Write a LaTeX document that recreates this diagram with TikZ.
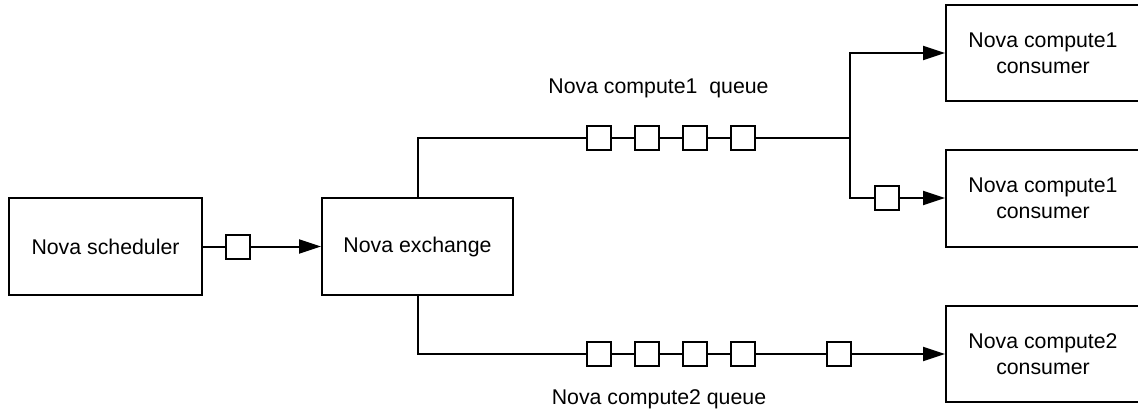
\documentclass[tikz,border=0pt]{standalone}
\usepackage{fontspec}
\setmainfont{Liberation Sans}
\usetikzlibrary{arrows.meta}
\begin{document}
\begin{tikzpicture}[x=1pt,y=-1pt,
  line width=2pt,
  box/.style={draw,line width=2pt,inner sep=0pt,align=center,
    font=\fontsize{21.3}{26}\selectfont},
  qbox/.style={draw,fill=white,line width=2pt,inner sep=0pt,minimum width=24pt,minimum height=24pt},
  lbl/.style={inner sep=0pt,font=\fontsize{21.3}{26}\selectfont},
  arr/.style={-{Triangle[length=22pt,width=14pt]}}]
\fill[white] (0,0) rectangle (1138,412);
\useasboundingbox (0,0) rectangle (1138,412);
\clip (0,0) rectangle (1138,412);
% main boxes
\node[box,minimum width=193pt,minimum height=97pt] (sched) at (105.5,246.5) {Nova scheduler};
\node[box,minimum width=191pt,minimum height=97pt] (exch) at (417.5,246.5) {Nova exchange};
\node[box,minimum width=194pt,minimum height=96pt] (c1) at (1043,53) {Nova compute1\\consumer};
\node[box,minimum width=194pt,minimum height=97pt] (c2) at (1043,198) {Nova compute1\\consumer};
\node[box,minimum width=194pt,minimum height=96pt] (c3) at (1043,354) {Nova compute2\\consumer};
% queue squares
\node[qbox] (s1) at (238,246.5) {};
\node[qbox] (t1) at (598.5,137.5) {};
\node[qbox] (t2) at (646.5,137.5) {};
\node[qbox] (t3) at (694.5,137.5) {};
\node[qbox] (t4) at (742.5,137.5) {};
\node[qbox] (s2) at (887,198) {};
\node[qbox] (b1) at (598.5,354) {};
\node[qbox] (b2) at (646.5,354) {};
\node[qbox] (b3) at (694.5,354) {};
\node[qbox] (b4) at (742.5,354) {};
\node[qbox] (b5) at (838.5,354) {};
\coordinate (j1) at (850,137.5);
% labels
\node[lbl] (l1) at (658.5,88) {Nova compute1\ \ queue};
\node[lbl] (l2) at (659,399) {Nova compute2 queue};
% connectors
\draw (sched.east) -- (s1.west);
\draw[arr] (s1.east) -- (exch.west);
\draw (exch.north) |- (t1.west);
\draw (t1.east) -- (t2.west);
\draw (t2.east) -- (t3.west);
\draw (t3.east) -- (t4.west);
\draw (t4.east) -- (j1);
\draw[arr] (j1) |- (c1.west);
\draw (j1) |- (s2.west);
\draw[arr] (s2.east) -- (c2.west);
\draw (exch.south) |- (b1.west);
\draw (b1.east) -- (b2.west);
\draw (b2.east) -- (b3.west);
\draw (b3.east) -- (b4.west);
\draw (b4.east) -- (b5.west);
\draw[arr] (b5.east) -- (c3.west);
\end{tikzpicture}
\end{document}
